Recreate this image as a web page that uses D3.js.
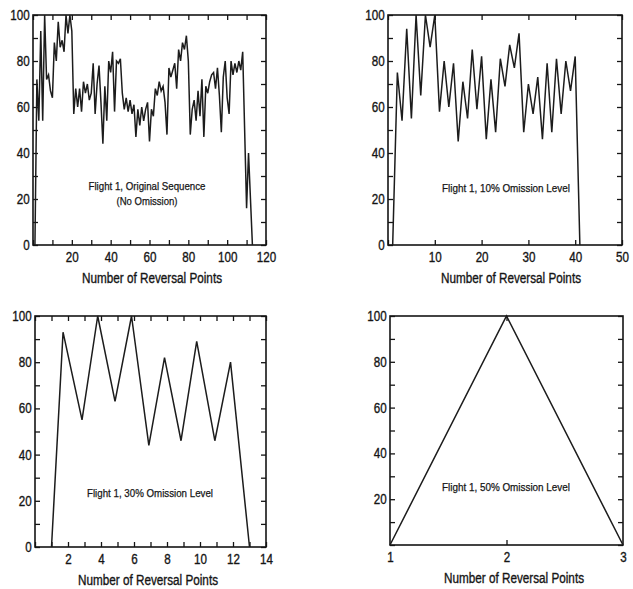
<!DOCTYPE html>
<html><head><meta charset="utf-8">
<script src="https://cdn.jsdelivr.net/npm/d3@7"></script>
<style>
body{margin:0;background:#fff}
svg{display:block}
text{font-family:"Liberation Sans",Arial,Helvetica,sans-serif;fill:#151515;stroke:#151515;stroke-width:0.35px}
</style>
</head><body>
<svg id="c" width="633" height="589"></svg>
<script>
// ---- data ----
const flight1Original = [0,72,54,93,54,100,72,74,67,64,88,80,97,86,89,84,100,92,100,93,
  57,68,60,68,58,71,66,70,63,66,79,57,70,78,62,44,69,54,80,75,
  84,58,80,79,81,66,59,64,58,63,57,61,47,59,52,60,54,59,62,45,
  59,56,68,65,71,67,69,62,48,77,73,76,79,68,85,80,88,85,91,80,
  48,59,63,54,67,56,72,47,69,66,71,74,75,68,77,65,49,73,80,64,
  57,80,74,79,75,80,76,84,50,16,40,20,0];
const flight1Omit10 = [0,75,54,94,55,100,65,100,86,100,58,80,60,79,45,71,55,85,59,82,
  46,72,49,81,69,87,77,92,49,70,57,73,46,79,49,81,57,80,67,82,0];
const flight1Omit30X = [1,1.7,2.85,3.8,4.85,5.85,6.9,7.85,8.85,9.8,10.9,11.85,13];
const flight1Omit30 = [0,93,55,100,63,100,44,82,46,89,46,80,0];
const flight1Omit50X = [1,2,3];
const flight1Omit50 = [0,100,0];

const xLabels1 = [20,40,60,80,100,120];
const xLabels2 = [10,20,30,40,50];
const xLabels3 = [2,4,6,8,10,12,14];
const xLabels4 = [1,2,3];
const yLabelsFull = [0,20,40,60,80,100];
const yLabelsNoZero = [20,40,60,80,100];
const annot1 = ["Flight 1, Original Sequence","(No Omission)"];
const annot2 = ["Flight 1, 10% Omission Level"];
const annot3 = ["Flight 1, 30% Omission Level"];
const annot4 = ["Flight 1, 50% Omission Level"];
const xTitle = "Number of Reversal Points";

// ---- panel definitions ----
const panels = [
  {box:[33,266,15,245], xd:[0,120], xt:d3.range(0,121,10), xl:xLabels1, yl:yLabelsFull,
   pts:flight1Original.map((v,i)=>[i+1,v]),
   ann:annot1, annX:147, annY:[190,205], annW:[117,61], titleX:152, titleY:283},
  {box:[388,622,15,245], xd:[0,50], xt:d3.range(0,51,10), xl:xLabels2, yl:yLabelsFull,
   pts:flight1Omit10.map((v,i)=>[i+1,v]),
   ann:annot2, annX:506, annY:[192], annW:[128], titleX:511, titleY:283},
  {box:[35,266,316,547], xd:[0,14], xt:d3.range(0,15,1), xl:xLabels3, yl:yLabelsFull,
   pts:flight1Omit30.map((v,i)=>[flight1Omit30X[i],v]),
   ann:annot3, annX:150, annY:[497], annW:[126], titleX:148, titleY:585},
  {box:[390,623,316,545], xd:[1,3], xt:[2], xl:xLabels4, yl:yLabelsNoZero,
   pts:flight1Omit50.map((v,i)=>[flight1Omit50X[i],v]),
   ann:annot4, annX:506, annY:[491], annW:[128], titleX:514, titleY:583}
];

const svg = d3.select("#c");
const SX = 0.83;
const ink = "#151515";

panels.forEach(p=>{
  const [l,r,t,b] = p.box;
  const x = d3.scaleLinear().domain(p.xd).range([l,r]);
  const y = d3.scaleLinear().domain([0,100]).range([b,t]);
  const g = svg.append("g");
  const yt = d3.range(0,101,10);

  const styleAxis = sel=>{
    sel.select(".domain").remove();
    sel.selectAll(".tick line").attr("stroke",ink).attr("stroke-width",1.3);
    sel.selectAll(".tick text").attr("font-size",14).attr("fill",ink)
      .attr("transform",`scale(${SX},1)`);
  };
  // bottom
  g.append("g").attr("transform",`translate(0,${b})`)
    .call(d3.axisBottom(x).tickValues(Array.from(new Set(p.xt.concat(p.xl))).sort((a,b)=>a-b))
      .tickSize(-5).tickPadding(7).tickFormat(d=>p.xl.includes(d)?d:""))
    .call(styleAxis)
    .call(s=>s.selectAll(".tick line").filter(d=>!p.xt.includes(d)).remove());
  // top
  g.append("g").attr("transform",`translate(0,${t})`)
    .call(d3.axisTop(x).tickValues(p.xt).tickSize(-5).tickFormat(""))
    .call(styleAxis);
  // left
  g.append("g").attr("transform",`translate(${l},0)`)
    .call(d3.axisLeft(y).tickValues(yt).tickSize(-5).tickPadding(4)
      .tickFormat(d=>p.yl.includes(d)?d:""))
    .call(styleAxis);
  // right
  g.append("g").attr("transform",`translate(${r},0)`)
    .call(d3.axisRight(y).tickValues(yt).tickSize(-5).tickFormat(""))
    .call(styleAxis);

  // frame
  g.append("rect").attr("x",l).attr("y",t).attr("width",r-l).attr("height",b-t)
    .attr("fill","none").attr("stroke",ink).attr("stroke-width",1.6);

  // data line
  g.append("path").datum(p.pts)
    .attr("d",d3.line().x(d=>x(d[0])).y(d=>y(d[1])))
    .attr("fill","none").attr("stroke","#1c1c1c").attr("stroke-width",1.5)
    .attr("stroke-linejoin","miter");

  // annotation
  p.ann.forEach((txt,i)=>{
    g.append("text").attr("x",p.annX).attr("y",p.annY[i])
      .attr("text-anchor","middle").attr("font-size",11.5)
      .style("stroke-width","0.25px")
      .attr("textLength",p.annW[i]).attr("lengthAdjust","spacingAndGlyphs")
      .text(txt);
  });
  // x title
  g.append("text").attr("x",p.titleX).attr("y",p.titleY)
    .attr("text-anchor","middle").attr("font-size",14)
    .attr("textLength",140).attr("lengthAdjust","spacingAndGlyphs")
    .text(xTitle);
});
</script>
</body></html>
